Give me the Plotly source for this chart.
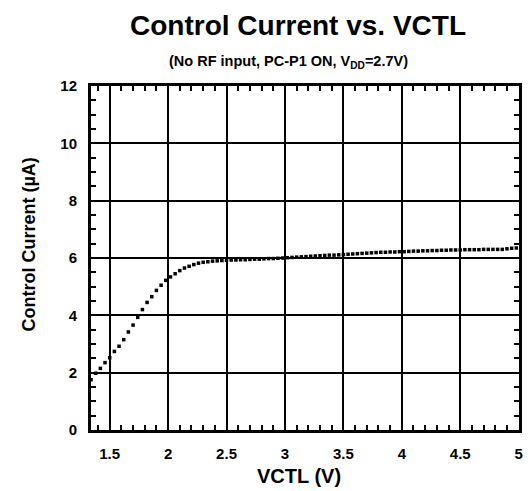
import plotly.graph_objects as go

vctl = [1.34, 1.38, 1.42, 1.46, 1.50, 1.54, 1.58, 1.62, 1.66, 1.70, 1.74, 1.78, 1.82, 1.86,
        1.90, 1.94, 1.98, 2.02, 2.06, 2.10, 2.14, 2.18, 2.22, 2.26, 2.30, 2.34, 2.38, 2.42,
        2.46, 2.50, 2.54, 2.58, 2.62, 2.66, 2.70, 2.74, 2.78, 2.82, 2.86, 2.90, 2.94, 2.98,
        3.02, 3.06, 3.10, 3.14, 3.18, 3.22, 3.26, 3.30, 3.34, 3.38, 3.42, 3.46, 3.50, 3.54,
        3.58, 3.62, 3.66, 3.70, 3.74, 3.78, 3.82, 3.86, 3.90, 3.94, 3.98, 4.02, 4.06, 4.10,
        4.14, 4.18, 4.22, 4.26, 4.30, 4.34, 4.38, 4.42, 4.46, 4.50, 4.54, 4.58, 4.62, 4.66,
        4.70, 4.74, 4.78, 4.82, 4.86, 4.90, 4.94, 4.98]
current = [1.75, 1.98, 2.15, 2.35, 2.52, 2.74, 2.92, 3.15, 3.42, 3.66, 3.93, 4.20, 4.45, 4.65,
           4.87, 5.05, 5.22, 5.34, 5.45, 5.56, 5.65, 5.71, 5.77, 5.82, 5.85, 5.87, 5.89, 5.90,
           5.91, 5.92, 5.93, 5.93, 5.94, 5.94, 5.95, 5.96, 5.96, 5.97, 5.98, 5.98, 5.99, 6.00,
           6.01, 6.02, 6.03, 6.04, 6.05, 6.06, 6.07, 6.08, 6.09, 6.10, 6.10, 6.11, 6.12, 6.13,
           6.14, 6.15, 6.16, 6.17, 6.18, 6.19, 6.20, 6.20, 6.21, 6.21, 6.22, 6.22, 6.23, 6.24,
           6.24, 6.25, 6.25, 6.26, 6.26, 6.27, 6.27, 6.28, 6.28, 6.28, 6.29, 6.29, 6.29, 6.29,
           6.30, 6.30, 6.30, 6.30, 6.30, 6.32, 6.34, 6.35]

x_ticks = [1.5, 2, 2.5, 3, 3.5, 4, 4.5, 5]
x_tick_labels = ["1.5", "2", "2.5", "3", "3.5", "4", "4.5", "5"]
y_ticks = [0, 2, 4, 6, 8, 10, 12]
y_tick_labels = ["0", "2", "4", "6", "8", "10", "12"]

FONT = "Arial, Liberation Sans, sans-serif"
OFF = 8  # page body margin
W, H = 532 - OFF, 491 - OFF
ML, MR, MT, MB = 91 - OFF, 9, 86 - OFF, 61
PW, PH = W - ML - MR, H - MT - MB


def px_to_paper_x(px):  # px in window coordinates
    return (px - OFF - ML) / PW


def px_to_paper_y(py):
    return (H - MB - (py - OFF)) / PH


fig = go.Figure()
fig.add_trace(go.Scatter(
    x=vctl, y=current, mode="markers",
    marker=dict(symbol="square", size=3.5, color="black", line=dict(width=0)),
    showlegend=False, cliponaxis=True,
))

fig.update_layout(
    width=W, height=H,
    margin=dict(l=ML, r=MR, t=MT, b=MB),
    paper_bgcolor="white", plot_bgcolor="white",
    font=dict(family=FONT, color="black"),
    annotations=[
        dict(text="<b>Control Current vs. VCTL</b>", xref="paper", yref="paper",
             x=px_to_paper_x(300), y=px_to_paper_y(26), xanchor="center", yanchor="middle",
             showarrow=False, font=dict(size=28, family=FONT, color="black")),
        dict(text="<b>(No RF input, PC-P1 ON, V<sub>DD</sub>=2.7V)</b>",
             xref="paper", yref="paper", x=px_to_paper_x(290), y=px_to_paper_y(62),
             xanchor="center", yanchor="middle", showarrow=False,
             font=dict(size=14.5, family=FONT, color="black")),
        dict(text="<b>VCTL (V)</b>", xref="paper", yref="paper",
             x=px_to_paper_x(301), y=px_to_paper_y(476), xanchor="center", yanchor="middle",
             showarrow=False, font=dict(size=20, family=FONT, color="black")),
        dict(text="<b>Control Current (µA)</b>", xref="paper", yref="paper",
             x=px_to_paper_x(28), y=px_to_paper_y(245), xanchor="center", yanchor="middle",
             textangle=-90, showarrow=False, font=dict(size=18, family=FONT, color="black")),
    ],
)

fig.update_xaxes(
    range=[1.34, 5.003], tickmode="array", tickvals=x_ticks, ticktext=x_tick_labels,
    showgrid=True, gridcolor="black", gridwidth=2,
    showline=True, linecolor="black", linewidth=3, mirror="ticks",
    ticks="inside", ticklen=0, tickcolor="black", ticklabelstandoff=8,
    minor=dict(ticks="inside", ticklen=5, tickwidth=2, tickcolor="black", dtick=0.1, tick0=1.5, showgrid=False),
    tickfont=dict(size=15, family=FONT, color="black", weight="bold"),
    zeroline=False,
)
fig.update_yaxes(
    range=[0, 12], tickmode="array", tickvals=y_ticks, ticktext=y_tick_labels,
    showgrid=True, gridcolor="black", gridwidth=2,
    showline=True, linecolor="black", linewidth=3, mirror="ticks",
    ticks="inside", ticklen=0, tickcolor="black", ticklabelstandoff=8,
    minor=dict(ticks="inside", ticklen=5, tickwidth=2, tickcolor="black", dtick=0.5, tick0=0, showgrid=False),
    tickfont=dict(size=15, family=FONT, color="black", weight="bold"),
    zeroline=False,
)

fig.write_html("out.html")
